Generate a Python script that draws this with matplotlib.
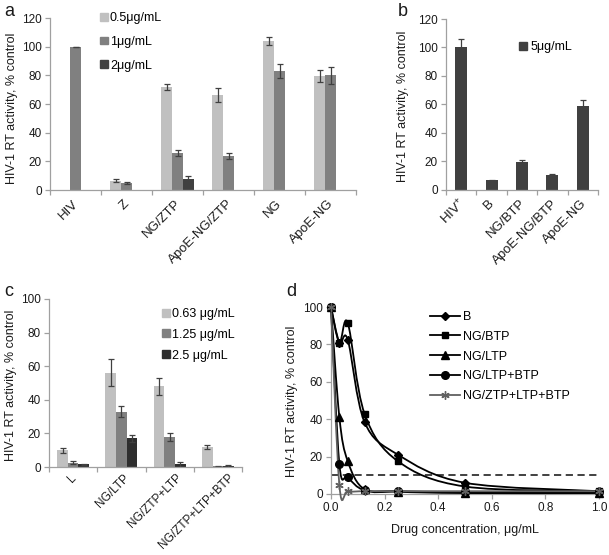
import numpy as np
import matplotlib
matplotlib.use('Agg')
import matplotlib.pyplot as plt
import matplotlib.transforms as mtransforms
from matplotlib.path import Path
from matplotlib.patches import PathPatch, Patch
from matplotlib.lines import Line2D

plt.rcParams['font.family'] = ['Liberation Sans', 'DejaVu Sans']
plt.rcParams['mathtext.fontset'] = 'custom'
plt.rcParams['mathtext.rm'] = 'Liberation Sans'
plt.rcParams['mathtext.default'] = 'regular'

nan = np.nan

# ---------------- Panel a ----------------
a_categories = ["HIV", "Z", "NG/ZTP", "ApoE-NG/ZTP", "NG", "ApoE-NG"]
a_series = ["0.5μg/mL", "1μg/mL", "2μg/mL"]
a_05 = [nan, 6.5, 72, 66.5, 104, 79.5]
a_05_err = [0, 1.0, 2.0, 5.0, 3.0, 4.0]
a_1 = [100, 5, 26, 23.5, 83, 80]
a_1_err = [0, 0.7, 2.0, 2.0, 5.0, 6.0]
a_2 = [nan, nan, 8, nan, nan, nan]
a_2_err = [0, 0, 1.5, 0, 0, 0]

# ---------------- Panel b ----------------
b_categories = ["HIV$^{+}$", "B", "NG/BTP", "ApoE-NG/BTP", "ApoE-NG"]
b_series = "5μg/mL"
b_vals = [100, 6.5, 19.5, 10, 59]
b_err = [6, 0.5, 1.0, 1.0, 4.0]

# ---------------- Panel c ----------------
c_categories = ["L", "NG/LTP", "NG/ZTP+LTP", "NG/ZTP+LTP+BTP"]
c_series = ["0.63 μg/mL", "1.25 μg/mL", "2.5 μg/mL"]
c_063 = [10, 56, 48, 12]
c_063_err = [1.5, 8, 5, 1]
c_125 = [2.5, 33, 18, 0.5]
c_125_err = [1.0, 3.5, 2.5, 0.3]
c_25 = [1.5, 17, 1.5, 0.5]
c_25_err = [0.5, 2.0, 1.5, 0.5]

# ---------------- Panel d ----------------
d_conc = [0, 0.03125, 0.0625, 0.125, 0.25, 0.5, 1.0]
d_names = ["B", "NG/BTP", "NG/LTP", "NG/LTP+BTP", "NG/ZTP+LTP+BTP"]
d_B = [100, 81, 82.5, 38.5, 21, 6, 1.5]
d_NGBTP = [100, 81, 91.5, 43, 17.5, 4, 1.5]
d_NGLTP = [100, 41, 17.5, 2.5, 1.2, 0.5, 0.5]
d_NGLTPBTP = [100, 16, 9, 2, 1.5, 1, 1]
d_NGZTPLTPBTP = [100, 4.8, 1.5, 1.5, 1.5, 1.5, 1.5]
d_threshold = 10

W, H = 609, 555
fig = plt.figure(figsize=(W / 100, H / 100), dpi=100)

LIGHT, MID, DARK = '#c0c0c0', '#808080', '#404040'
SPINE = '#a0a0a0'
TXT = '#1a1a1a'
TICK_FS = 8.5
LAB_FS = 9
CAT_FS = 9.5


def px_axes(l, t, r, b):
    return fig.add_axes([l / W, 1 - b / H, (r - l) / W, (b - t) / H])


def style(ax):
    for s in ['top', 'right']:
        ax.spines[s].set_visible(False)
    for s in ['left', 'bottom']:
        ax.spines[s].set_color(SPINE)
        ax.spines[s].set_linewidth(0.9)
    ax.tick_params(axis='both', colors=SPINE, labelcolor=TXT, labelsize=TICK_FS,
                   length=3.5, width=0.9, direction='out', pad=2.5)


def ylabel_at(ax, xpx, ypx):
    # xpx is the right edge of the rotated label
    ax.set_ylabel("HIV-1 RT activity, % control", fontsize=LAB_FS, color=TXT)
    ax.yaxis.set_label_coords(xpx / W, 1 - ypx / H, transform=fig.transFigure)


def cat_axis(ax, cats, fs=CAT_FS, dy_px=12.5, dx_per_char=0.0):
    n = len(cats)
    ax.set_xlim(-0.5, n - 0.5)
    ax.set_xticks(np.arange(n + 1) - 0.5)
    ax.set_xticklabels([])
    base = mtransforms.blended_transform_factory(ax.transData, ax.transAxes)
    for i, c in enumerate(cats):
        dx = dx_per_char * len(c)
        tr = base + mtransforms.ScaledTranslation(dx / 100, -dy_px / 100, fig.dpi_scale_trans)
        ax.text(i, 0, c, transform=tr, rotation=45, ha='right', va='center',
                rotation_mode='anchor', fontsize=fs, color=TXT, clip_on=False)


ekw = dict(ecolor='#404040', elinewidth=0.9, capsize=2.5, capthick=0.9)

# ---- a ----
axa = px_axes(50, 18, 356, 190)
style(axa)
x = np.arange(len(a_categories))
w = 0.21
axa.bar(x - w, a_05, w, color=LIGHT, yerr=a_05_err, error_kw=ekw, label=a_series[0])
axa.bar(x, a_1, w, color=MID, yerr=a_1_err, error_kw=ekw, label=a_series[1])
axa.bar(x + w, a_2, w, color=DARK, yerr=a_2_err, error_kw=ekw, label=a_series[2])
axa.set_ylim(0, 120)
axa.set_yticks(np.arange(0, 121, 20))
cat_axis(axa, a_categories, dy_px=12, dx_per_char=0.2)
ylabel_at(axa, 18, 108)
h = [Patch(color=c) for c in (LIGHT, MID, DARK)]
axa.legend(h, a_series, loc='upper left', bbox_to_anchor=(100 / W, 1 - 12 / H),
           bbox_transform=fig.transFigure, frameon=False, fontsize=9,
           handlelength=0.6, handleheight=0.6, handletextpad=0.2, labelspacing=0.95,
           borderpad=0, borderaxespad=0)

# ---- b ----
axb = px_axes(446, 19, 598, 189.5)
style(axb)
xb = np.arange(len(b_categories))
axb.bar(xb, b_vals, 0.4, color=DARK, yerr=b_err, error_kw=ekw, label=b_series)
axb.set_ylim(0, 120)
axb.set_yticks(np.arange(0, 121, 20))
cat_axis(axb, b_categories, dy_px=12, dx_per_char=0.3)
ylabel_at(axb, 409, 106)
axb.legend([Patch(color=DARK)], [b_series], loc='upper left',
           bbox_to_anchor=(519 / W, 1 - 41 / H), bbox_transform=fig.transFigure,
           frameon=False, fontsize=9, handlelength=0.6, handleheight=0.6,
           handletextpad=0.3, borderpad=0, borderaxespad=0)

# ---- c ----
axc = px_axes(49, 299, 242, 467)
style(axc)
xc = np.arange(len(c_categories))
wc = 0.22
axc.bar(xc - wc, c_063, wc, color=LIGHT, yerr=c_063_err, error_kw=ekw)
axc.bar(xc, c_125, wc, color=MID, yerr=c_125_err, error_kw=ekw)
axc.bar(xc + wc, c_25, wc, color='#2e2e2e', yerr=c_25_err, error_kw=ekw)
axc.set_ylim(0, 100)
axc.set_yticks(np.arange(0, 101, 20))
cat_axis(axc, c_categories, fs=8.5, dy_px=9, dx_per_char=1.0)
ylabel_at(axc, 17, 385)
h = [Patch(color=c) for c in (LIGHT, MID, '#2e2e2e')]
axc.legend(h, c_series, loc='upper left', bbox_to_anchor=(162 / W, 1 - 308 / H),
           bbox_transform=fig.transFigure, frameon=False, fontsize=9,
           handlelength=0.6, handleheight=0.6, handletextpad=0.2, labelspacing=0.7,
           borderpad=0, borderaxespad=0)

# ---- d ----
axd = px_axes(331, 307, 599, 494)
style(axd)
axd.set_xlim(0, 1.0)
axd.set_ylim(0, 100)
axd.set_xticks(np.arange(0, 1.01, 0.2))
axd.set_xticklabels([f"{v:.1f}" for v in np.arange(0, 1.01, 0.2)])
axd.set_yticks(np.arange(0, 101, 20))
axd.set_xlabel("Drug concentration, μg/mL", fontsize=LAB_FS, color=TXT, labelpad=7)
ylabel_at(axd, 298, 401)


def smooth_path(xs, ys):
    pts = np.column_stack([xs, ys]).astype(float)
    n = len(pts)
    verts = [pts[0]]
    codes = [Path.MOVETO]
    for i in range(n - 1):
        p0 = pts[i - 1] if i > 0 else pts[i]
        p1, p2 = pts[i], pts[i + 1]
        p3 = pts[i + 2] if i + 2 < n else pts[i + 1]
        c1 = p1 + (p2 - p0) / 6.0
        c2 = p2 - (p3 - p1) / 6.0
        verts += [c1, c2, p2]
        codes += [Path.CURVE4] * 3
    return Path(verts, codes)


axd.hlines(d_threshold, 0, 1.0, colors='#333333', linestyles=(0, (4, 2.5)), lw=1.3, zorder=2)

d_series = [d_B, d_NGBTP, d_NGLTP, d_NGLTPBTP, d_NGZTPLTPBTP]
d_markers = ['D', 's', '^', 'o', (6, 2, 0)]
d_msize = [4.5, 5, 5.5, 5.5, 6]
d_colors = ['black', 'black', 'black', 'black', '#606060']
handles = []
for ys, m, ms, col in zip(d_series, d_markers, d_msize, d_colors):
    pp = PathPatch(smooth_path(d_conc, ys), fill=False, edgecolor=col, lw=1.3, zorder=3)
    pp.set_clip_on(False)
    axd.add_patch(pp)
    axd.plot(d_conc, ys, ls='none', marker=m, ms=ms, color=col, mec=col,
             mew=1.0, clip_on=False, zorder=4)
    handles.append(Line2D([], [], color=col, lw=1.3, marker=m, ms=ms, mew=1.0))
axd.legend(handles, d_names, loc='upper left', bbox_to_anchor=(430 / W, 1 - 311 / H),
           bbox_transform=fig.transFigure, frameon=False, fontsize=9,
           handlelength=2.4, handletextpad=0.2, labelspacing=0.62,
           borderpad=0, borderaxespad=0)

# panel letters
for lbl, xp, yp in [('a', 4, 16), ('b', 398, 16), ('c', 4, 296), ('d', 286, 296)]:
    fig.text(xp / W, 1 - yp / H, lbl, fontsize=13, color=TXT, ha='left', va='baseline')

fig.savefig('out.png', dpi=100)
